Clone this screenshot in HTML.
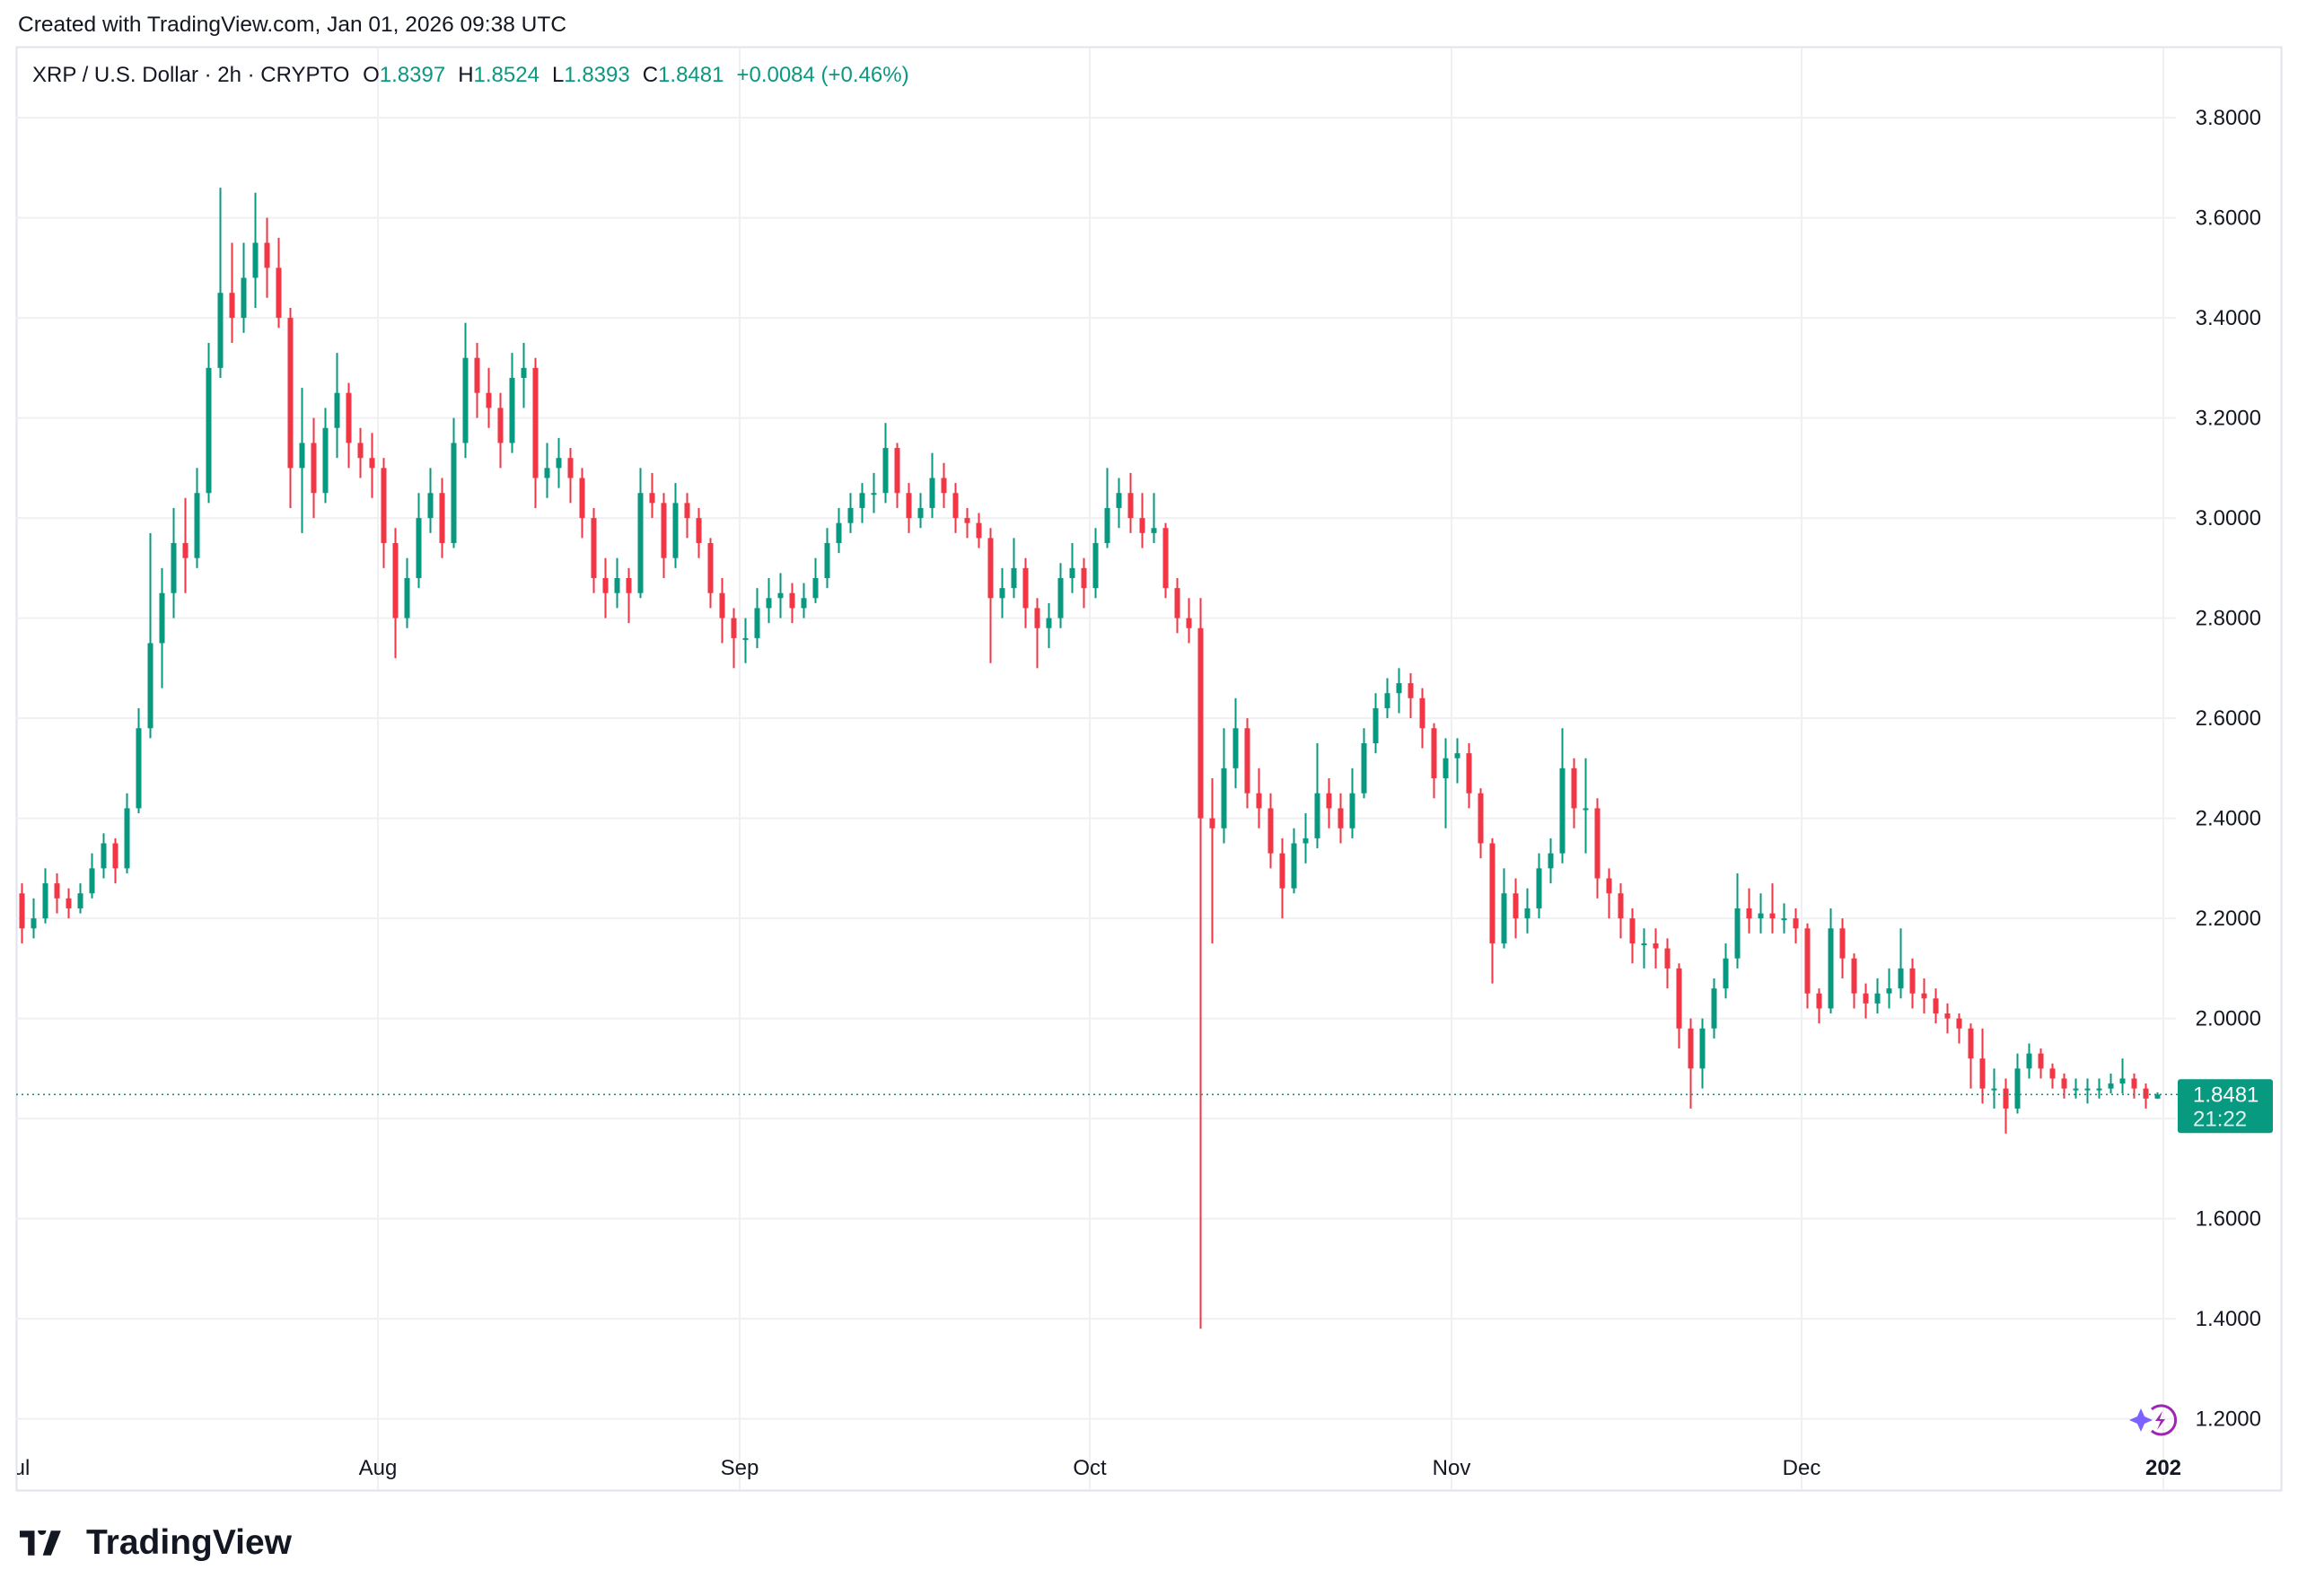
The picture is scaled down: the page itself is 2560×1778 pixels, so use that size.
<!DOCTYPE html>
<html><head><meta charset="utf-8"><title>XRP / U.S. Dollar 2h chart</title>
<style>
html,body{margin:0;padding:0;background:#fff;}
body{width:2560px;height:1778px;position:relative;overflow:hidden;font-family:"Liberation Sans",sans-serif;color:#131722;}
#hdr{position:absolute;left:20px;top:14px;font-size:24.5px;}
#logo{position:absolute;left:22px;top:1697px;font-size:39px;font-weight:bold;display:flex;align-items:center;gap:8px;}
</style></head><body>
<div id="hdr">Created with TradingView.com, Jan 01, 2026 09:38 UTC</div>
<svg id="chart" width="2560" height="1778" style="position:absolute;left:0;top:0" xmlns="http://www.w3.org/2000/svg">
  <defs><clipPath id="plotclip"><rect x="19" y="53" width="2522" height="1607"/></clipPath></defs>
  <rect x="18.5" y="52.5" width="2523" height="1608" fill="none" stroke="#e0e3eb" stroke-width="2"/>
  <g id="grid"></g>
  <g id="candles"></g>
  <g id="yaxis"></g>
  <g id="xaxis" clip-path="url(#plotclip)"></g>
  <text x="36" y="91" font-size="24" fill="#131722" font-family="Liberation Sans, sans-serif" xml:space="preserve">XRP / U.S. Dollar · 2h · CRYPTO <tspan dx="8">O</tspan><tspan fill="#089981">1.8397</tspan><tspan dx="14">H</tspan><tspan fill="#089981">1.8524</tspan><tspan dx="14">L</tspan><tspan fill="#089981">1.8393</tspan><tspan dx="14">C</tspan><tspan fill="#089981">1.8481</tspan><tspan dx="14" fill="#089981">+0.0084 (+0.46%)</tspan></text>
  <g transform="translate(2403,1582)">
    <path d="M-22,-4 l4,-9 l4,9 l9,4 l-9,4 l-4,9 l-4,-9 l-9,-4z" fill="#7b61ff"/>
    <path d="M-6,-12 A16,16 0 1 1 -6,12" fill="none" stroke="#9c27b0" stroke-width="3"/>
    <path d="M6,-10 l-8,11 h6 l-4,10 l9,-12 h-6 l3,-9z" fill="#9c27b0"/>
  </g>
</svg>
<div id="logo"><svg width="66" height="28" viewBox="0 0 36 15"><path d="M0 0h9v15H5V4H0z M11 0a2.5 2.5 0 1 1 0 .1z M19 0h6l-6 15h-5z" fill="#131722"/></svg><span>TradingView</span></div>
<script>
const opens0 = 2.25;
const closes = [2.18,2.20,2.27,2.24,2.22,2.25,2.30,2.35,2.30,2.42,2.58,2.75,2.85,2.95,2.92,3.05,3.30,3.45,3.40,3.48,
3.55,3.50,3.40,3.10,3.15,3.05,3.18,3.25,3.15,3.12,3.10,2.95,2.80,2.88,3.00,3.05,2.95,3.15,3.32,3.25,
3.22,3.15,3.28,3.30,3.08,3.10,3.12,3.08,3.00,2.88,2.85,2.88,2.85,3.05,3.03,2.92,3.03,3.00,2.95,2.85,
2.80,2.76,2.76,2.82,2.84,2.85,2.82,2.84,2.88,2.95,2.99,3.02,3.05,3.05,3.14,3.05,3.00,3.02,3.08,3.05,
3.00,2.99,2.96,2.84,2.86,2.90,2.82,2.78,2.80,2.88,2.90,2.86,2.95,3.02,3.05,3.00,2.97,2.98,2.86,2.80,
2.78,2.40,2.38,2.50,2.58,2.45,2.42,2.33,2.26,2.35,2.36,2.45,2.42,2.38,2.45,2.55,2.62,2.65,2.67,2.64,
2.58,2.48,2.52,2.53,2.45,2.35,2.15,2.25,2.20,2.22,2.30,2.33,2.50,2.42,2.42,2.28,2.25,2.20,2.15,2.15,
2.14,2.10,1.98,1.90,1.98,2.06,2.12,2.22,2.20,2.21,2.20,2.20,2.18,2.05,2.02,2.18,2.12,2.05,2.03,2.05,
2.06,2.10,2.05,2.04,2.01,2.00,1.98,1.92,1.86,1.86,1.82,1.90,1.93,1.90,1.88,1.86,1.86,1.86,1.86,1.87,
1.88,1.86,1.84,1.8481];
const highs = [2.27,2.24,2.30,2.29,2.26,2.27,2.33,2.37,2.36,2.45,2.62,2.97,2.90,3.02,3.04,3.10,3.35,3.66,3.55,3.55,
3.65,3.60,3.56,3.42,3.26,3.20,3.22,3.33,3.27,3.18,3.17,3.12,2.98,2.92,3.05,3.10,3.08,3.20,3.39,3.35,
3.30,3.25,3.33,3.35,3.32,3.15,3.16,3.14,3.10,3.02,2.92,2.92,2.90,3.10,3.09,3.05,3.07,3.05,3.02,2.96,
2.88,2.82,2.80,2.86,2.88,2.89,2.87,2.87,2.92,2.98,3.02,3.05,3.07,3.09,3.19,3.15,3.07,3.05,3.13,3.11,
3.07,3.02,3.01,2.98,2.90,2.96,2.92,2.84,2.83,2.91,2.95,2.92,2.98,3.10,3.08,3.09,3.05,3.05,2.99,2.88,
2.84,2.84,2.48,2.58,2.64,2.60,2.50,2.45,2.36,2.38,2.41,2.55,2.48,2.45,2.50,2.58,2.65,2.68,2.70,2.69,
2.66,2.59,2.56,2.56,2.55,2.46,2.36,2.30,2.28,2.26,2.33,2.36,2.58,2.52,2.52,2.44,2.30,2.27,2.22,2.18,
2.18,2.16,2.11,2.00,2.00,2.08,2.15,2.29,2.26,2.25,2.27,2.23,2.22,2.19,2.06,2.22,2.20,2.13,2.07,2.08,
2.10,2.18,2.12,2.08,2.06,2.03,2.01,1.99,1.98,1.90,1.88,1.93,1.95,1.94,1.91,1.89,1.88,1.88,1.88,1.89,
1.92,1.89,1.87,1.8524];
const lows = [2.15,2.16,2.19,2.21,2.20,2.21,2.24,2.28,2.27,2.29,2.41,2.56,2.66,2.80,2.85,2.90,3.03,3.28,3.35,3.37,
3.42,3.44,3.38,3.02,2.97,3.00,3.03,3.12,3.10,3.08,3.04,2.90,2.72,2.78,2.86,2.97,2.92,2.94,3.12,3.20,
3.18,3.10,3.13,3.22,3.02,3.04,3.06,3.03,2.96,2.85,2.80,2.82,2.79,2.84,3.00,2.88,2.90,2.96,2.92,2.82,
2.75,2.70,2.71,2.74,2.79,2.80,2.79,2.80,2.83,2.86,2.93,2.97,2.99,3.01,3.03,3.02,2.97,2.98,3.00,3.02,
2.97,2.96,2.94,2.71,2.80,2.84,2.78,2.70,2.74,2.78,2.85,2.82,2.84,2.94,2.98,2.97,2.94,2.95,2.84,2.77,
2.75,1.38,2.15,2.35,2.46,2.42,2.38,2.30,2.20,2.25,2.31,2.34,2.38,2.35,2.36,2.44,2.53,2.60,2.61,2.60,
2.54,2.44,2.38,2.47,2.42,2.32,2.07,2.14,2.16,2.17,2.20,2.27,2.31,2.38,2.33,2.24,2.20,2.16,2.11,2.10,
2.10,2.06,1.94,1.82,1.86,1.96,2.04,2.10,2.17,2.17,2.17,2.17,2.15,2.02,1.99,2.01,2.08,2.02,2.00,2.01,
2.02,2.04,2.02,2.01,1.99,1.97,1.95,1.86,1.83,1.82,1.77,1.81,1.88,1.88,1.86,1.84,1.84,1.83,1.84,1.85,
1.85,1.84,1.82,1.8393];
const priceTicks = ["1.2000","1.4000","1.6000","1.8000","2.0000","2.2000","2.4000","2.6000","2.8000","3.0000","3.2000","3.4000","3.6000","3.8000"];
const monthLabels = ["Aug","Sep","Oct","Nov","Dec","202"];
const monthDays = [31,62,92,123,153,184];
const lastPrice = 1.8481;

const NS="http://www.w3.org/2000/svg";
const PL=18, PR=2424, PT=53;
function xDay(t){return 18 + t*13.0;}
function yP(p){return 1580.6 - (p-1.2)*557.5;}
function mk(tag,attrs,parent){const e=document.createElementNS(NS,tag);for(const k in attrs)e.setAttribute(k,attrs[k]);parent.appendChild(e);return e;}

const grid=document.getElementById('grid');
const yaxis=document.getElementById('yaxis');
priceTicks.forEach(t=>{
  const y=yP(parseFloat(t));
  const l=mk('line',{x1:PL,x2:PR,y1:y,y2:y,stroke:'#f0f0f3','stroke-width':2},grid);
  
  
  const tx=mk('text',{x:2519,y:y+8,'text-anchor':'end','font-size':24,fill:'#131722','font-family':'Liberation Sans, sans-serif'},yaxis);
  tx.textContent=t;
  
  
});
const xaxis=document.getElementById('xaxis');
const jl=mk('text',{x:18,y:1643,'font-size':24,fill:'#131722','font-family':'Liberation Sans, sans-serif','text-anchor':'middle'},xaxis);
jl.textContent='Jul';


monthLabels.forEach((m,i)=>{
  const x=xDay(monthDays[i]);
  const l=mk('line',{x1:x,x2:x,y1:PT,y2:1660,stroke:'#f0f0f3','stroke-width':2},grid);
  
  
  const tx=mk('text',{x:x,y:1643,'text-anchor':'middle','font-size':24,fill:'#131722','font-family':'Liberation Sans, sans-serif','font-weight':i==5?'bold':'normal'},xaxis);
  tx.textContent=m;
  
  
});

const cg=document.getElementById('candles');
let prev=opens0;
closes.forEach((c,i)=>{
  const o=prev; prev=c;
  const col=c>=o?'#089981':'#f23645';
  const cx=xDay(i+0.5);
  const w=mk('line',{x1:cx,x2:cx,y1:yP(highs[i]),y2:yP(lows[i]),stroke:col,'stroke-width':2},cg);
  
  
  const yt=yP(Math.max(o,c)), yb=yP(Math.min(o,c));
  const b=mk('rect',{x:cx-3,y:yt,width:6,height:Math.max(2,yb-yt),fill:col},cg);
  
  
});

const ly=yP(lastPrice);
const dl=mk('line',{x1:PL,x2:2426,y1:ly,y2:ly,stroke:'#089981','stroke-width':1.6,'stroke-dasharray':'2 4'},cg);


const bx=mk('rect',{x:2426,y:ly-17,width:106,height:60,rx:3,fill:'#089981'},yaxis);


const t1=mk('text',{x:2443,y:ly+8,'font-size':24,fill:'#fff','font-family':'Liberation Sans, sans-serif'},yaxis);
t1.textContent=lastPrice.toFixed(4);


const t2=mk('text',{x:2443,y:ly+35,'font-size':24,fill:'#e0f2ee','font-family':'Liberation Sans, sans-serif'},yaxis);
t2.textContent='21:22';


</script>
</body></html>
